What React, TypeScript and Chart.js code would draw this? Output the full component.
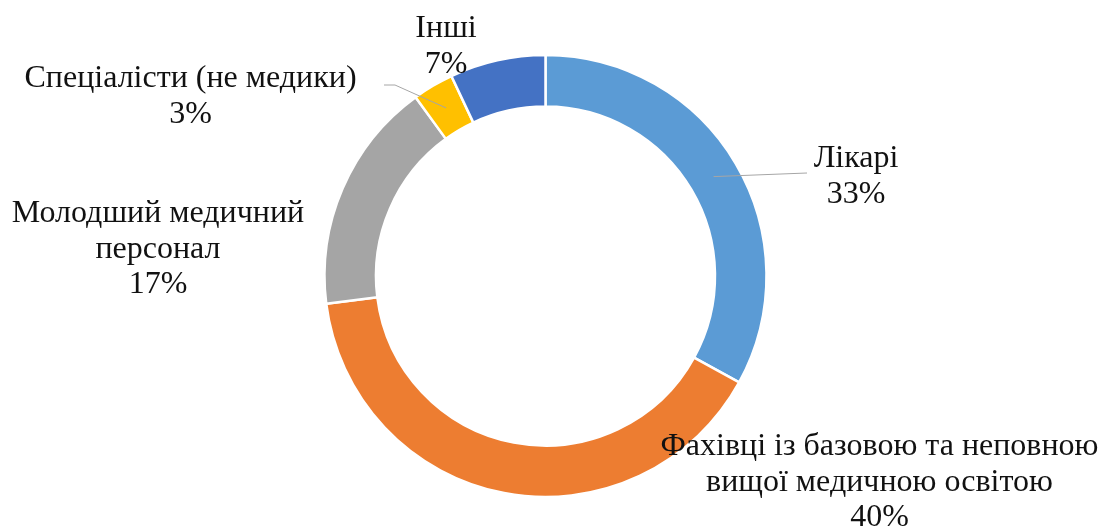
import React, { useEffect, useRef } from "react";
import { Chart, registerables } from "chart.js";

Chart.register(...registerables);

// ---- data ----
const categories = [
  "Лікарі",
  "Фахівці із базовою та неповною вищої медичною освітою",
  "Молодший медичний персонал",
  "Спеціалісти (не медики)",
  "Інші",
];
const shares = [33, 40, 17, 3, 7];
const labelLines = [
  ["Лікарі"],
  ["Фахівці із базовою та неповною", "вищої медичною освітою"],
  ["Молодший медичний", "персонал"],
  ["Спеціалісти (не медики)"],
  ["Інші"],
];
const colors = ["#5B9BD5", "#ED7D31", "#A5A5A5", "#FFC000", "#4472C4"];

// ---- label layout (offsets from the doughnut centre, px) ----
const labelLayout: { dx: number; dy: number; leader?: number[][] }[] = [
  { dx: 310.5, dy: -109, leader: [[261.5, -103]] },
  { dx: 334, dy: 179 },
  { dx: -387.5, dy: -54 },
  { dx: -355, dy: -189, leader: [[-150.5, -191], [-161.5, -191]] },
  { dx: -99.5, dy: -239 },
];
const FONT = '32px "Liberation Serif", "Times New Roman", serif';
const LINE_H = 35.5;

const labelPlugin = {
  id: "outerLabels",
  afterDatasetsDraw(chart: any) {
    const ctx = chart.ctx as CanvasRenderingContext2D;
    const meta = chart.getDatasetMeta(0);
    meta.data.forEach((arc: any, i: number) => {
      const p = arc.getProps(["x", "y", "startAngle", "endAngle", "innerRadius", "outerRadius"], true);
      const mid = (p.startAngle + p.endAngle) / 2;
      const r = (p.innerRadius + p.outerRadius) / 2;
      const ax = p.x + Math.cos(mid) * r;
      const ay = p.y + Math.sin(mid) * r;
      const lay = labelLayout[i];
      ctx.save();
      if (lay.leader) {
        ctx.strokeStyle = "#A6A6A6";
        ctx.lineWidth = 1;
        ctx.beginPath();
        ctx.moveTo(ax, ay);
        lay.leader.forEach((pt) => ctx.lineTo(p.x + pt[0], p.y + pt[1]));
        ctx.stroke();
      }
      ctx.font = FONT;
      ctx.fillStyle = "#111111";
      ctx.textAlign = "center";
      ctx.textBaseline = "alphabetic";
      const lines = [...labelLines[i], `${shares[i]}%`];
      lines.forEach((t, k) => {
        ctx.fillText(t, p.x + lay.dx, p.y + lay.dy + k * LINE_H);
      });
      ctx.restore();
    });
  },
};

export default function App() {
  const ref = useRef<HTMLCanvasElement | null>(null);
  useEffect(() => {
    if (!ref.current) return;
    const chart = new Chart(ref.current, {
      type: "doughnut",
      data: {
        labels: categories,
        datasets: [
          {
            data: shares,
            backgroundColor: colors,
            borderColor: "#FFFFFF",
            borderWidth: 2.5,
            hoverOffset: 0,
          },
        ],
      },
      options: {
        animation: false,
        responsive: true,
        maintainAspectRatio: false,
        radius: 221,
        cutout: "76.7%",
        layout: { padding: { left: 0, right: 11, top: 26, bottom: 0 } },
        plugins: {
          legend: { display: false },
          tooltip: { enabled: false },
        },
      } as any,
      plugins: [labelPlugin],
    });
    return () => chart.destroy();
  }, []);
  return (
    <div style={{ position: "absolute", left: 0, top: 0, width: 1102, height: 526 }}>
      <canvas ref={ref} />
    </div>
  );
}
